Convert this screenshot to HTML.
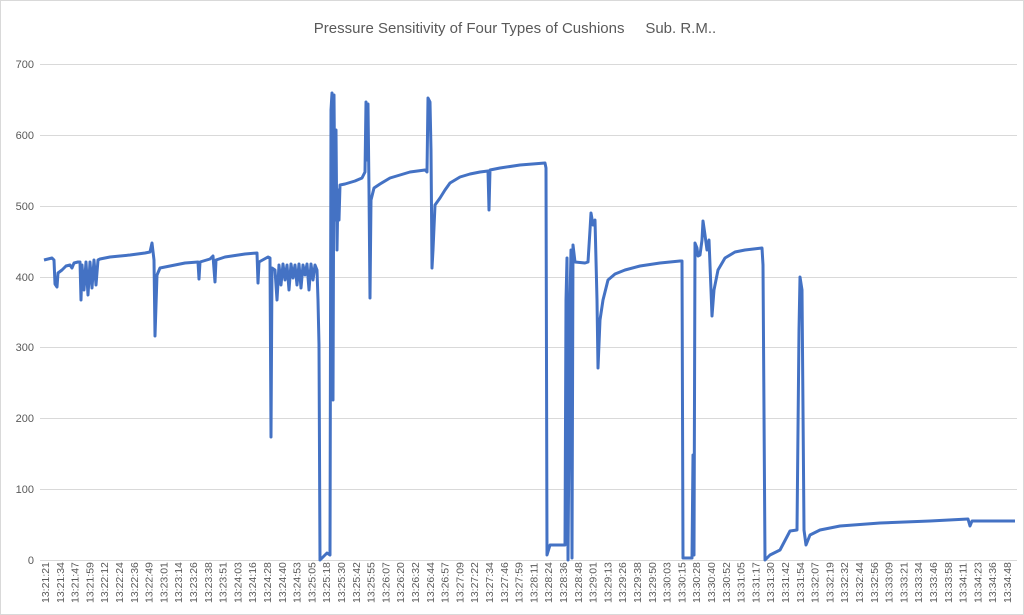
<!DOCTYPE html>
<html><head><meta charset="utf-8"><style>
body{margin:0;background:#fff}
svg{display:block}
text{font-family:"Liberation Sans",sans-serif;fill:#595959}
</style></head><body>
<svg width="1024" height="615" viewBox="0 0 1024 615">
<rect x="0.5" y="0.5" width="1023" height="614" fill="#fff" stroke="#d9d9d9"/>
<text x="515" y="33" font-size="15" text-anchor="middle" xml:space="preserve">Pressure Sensitivity of Four Types of Cushions     Sub. R.M..</text>
<g stroke="#d9d9d9" stroke-width="1">
<line x1="40" x2="1017" y1="64.5" y2="64.5"/><line x1="40" x2="1017" y1="135.5" y2="135.5"/>
<line x1="40" x2="1017" y1="206.5" y2="206.5"/><line x1="40" x2="1017" y1="277.5" y2="277.5"/>
<line x1="40" x2="1017" y1="347.5" y2="347.5"/><line x1="40" x2="1017" y1="418.5" y2="418.5"/>
<line x1="40" x2="1017" y1="489.5" y2="489.5"/><line x1="40" x2="1017" y1="560.5" y2="560.5"/>
</g>
<g font-size="11" text-anchor="end">
<text x="34" y="68">700</text><text x="34" y="139">600</text><text x="34" y="210">500</text>
<text x="34" y="281">400</text><text x="34" y="351">300</text><text x="34" y="422">200</text>
<text x="34" y="493">100</text><text x="34" y="564">0</text>
</g>
<polyline fill="none" stroke="#4472c4" stroke-width="3" stroke-linejoin="round" points="
44,260 52,258 54,260 55,284 57,287 58,273 62,270 66,266 70,265 72,268 74,263 78,262 80,262 81,300 82,265 84,290 86,262 88,295 90,262 92,288 94,260 96,285 98,260 100,259 110,257 130,255 145,253 150,252 152,243 154,260 155,336 157,275 160,268 170,266 185,263 198,262 199,279 200,262 210,259 213,256 215,282 216,260 225,257 245,254 257,253 258,283 259,262 268,257 270,258 271,437 272,268 275,270 277,300 279,265 281,285 283,264 285,280 287,265 289,290 291,264 293,278 295,265 297,285 299,264 301,288 303,265 305,275 307,264 309,290 311,264 313,280 315,265 317,270 318,300 319,345 320,560 327,553 330,555 331,110 332,93 333,400 334,95 335,220 336,130 337,250 338,190 339,220 340,185 345,184 355,181 362,178 365,172 366,102 367,160 368,104 369,190 370,298 371,200 374,188 380,184 390,178 400,175 410,172 425,170 427,172 428,98 430,102 431,150 432,268 433,250 435,205 440,198 445,190 450,183 460,177 470,174 480,172 488,171 489,210 490,170 500,168 520,165 545,163 546,168 547,555 550,545 565,545 566,300 567,258 568,560 570,300 571,250 572,558 573,245 575,262 585,263 588,262 590,230 591,213 593,225 595,220 597,300 598,368 600,320 603,300 608,280 615,274 625,270 640,266 660,263 680,261 682,261 683,558 692,558 693,455 694,555 695,243 697,248 698,256 700,255 702,240 703,221 705,235 707,250 709,240 711,290 712,316 714,290 718,270 725,258 735,252 745,250 762,248 763,265 765,560 770,555 780,550 790,531 797,530 799,330 800,277 802,290 804,530 806,545 810,535 820,530 840,526 880,523 930,521 968,519 970,526 972,521 1015,521"/>
<g font-size="10.5">
<text transform="translate(49,603) rotate(-90)">13:21:21</text>
<text transform="translate(63.8,603) rotate(-90)">13:21:34</text>
<text transform="translate(78.6,603) rotate(-90)">13:21:47</text>
<text transform="translate(93.4,603) rotate(-90)">13:21:59</text>
<text transform="translate(108.2,603) rotate(-90)">13:22:12</text>
<text transform="translate(123,603) rotate(-90)">13:22:24</text>
<text transform="translate(137.8,603) rotate(-90)">13:22:36</text>
<text transform="translate(152.6,603) rotate(-90)">13:22:49</text>
<text transform="translate(167.4,603) rotate(-90)">13:23:01</text>
<text transform="translate(182.2,603) rotate(-90)">13:23:14</text>
<text transform="translate(197,603) rotate(-90)">13:23:26</text>
<text transform="translate(211.8,603) rotate(-90)">13:23:38</text>
<text transform="translate(226.6,603) rotate(-90)">13:23:51</text>
<text transform="translate(241.4,603) rotate(-90)">13:24:03</text>
<text transform="translate(256.2,603) rotate(-90)">13:24:16</text>
<text transform="translate(271,603) rotate(-90)">13:24:28</text>
<text transform="translate(285.8,603) rotate(-90)">13:24:40</text>
<text transform="translate(300.6,603) rotate(-90)">13:24:53</text>
<text transform="translate(315.4,603) rotate(-90)">13:25:05</text>
<text transform="translate(330.2,603) rotate(-90)">13:25:18</text>
<text transform="translate(345,603) rotate(-90)">13:25:30</text>
<text transform="translate(359.8,603) rotate(-90)">13:25:42</text>
<text transform="translate(374.6,603) rotate(-90)">13:25:55</text>
<text transform="translate(389.4,603) rotate(-90)">13:26:07</text>
<text transform="translate(404.2,603) rotate(-90)">13:26:20</text>
<text transform="translate(419,603) rotate(-90)">13:26:32</text>
<text transform="translate(433.8,603) rotate(-90)">13:26:44</text>
<text transform="translate(448.6,603) rotate(-90)">13:26:57</text>
<text transform="translate(463.4,603) rotate(-90)">13:27:09</text>
<text transform="translate(478.2,603) rotate(-90)">13:27:22</text>
<text transform="translate(493,603) rotate(-90)">13:27:34</text>
<text transform="translate(507.8,603) rotate(-90)">13:27:46</text>
<text transform="translate(522.6,603) rotate(-90)">13:27:59</text>
<text transform="translate(537.4,603) rotate(-90)">13:28:11</text>
<text transform="translate(552.2,603) rotate(-90)">13:28:24</text>
<text transform="translate(567,603) rotate(-90)">13:28:36</text>
<text transform="translate(581.8,603) rotate(-90)">13:28:48</text>
<text transform="translate(596.6,603) rotate(-90)">13:29:01</text>
<text transform="translate(611.4,603) rotate(-90)">13:29:13</text>
<text transform="translate(626.2,603) rotate(-90)">13:29:26</text>
<text transform="translate(641,603) rotate(-90)">13:29:38</text>
<text transform="translate(655.8,603) rotate(-90)">13:29:50</text>
<text transform="translate(670.6,603) rotate(-90)">13:30:03</text>
<text transform="translate(685.4,603) rotate(-90)">13:30:15</text>
<text transform="translate(700.2,603) rotate(-90)">13:30:28</text>
<text transform="translate(715,603) rotate(-90)">13:30:40</text>
<text transform="translate(729.8,603) rotate(-90)">13:30:52</text>
<text transform="translate(744.6,603) rotate(-90)">13:31:05</text>
<text transform="translate(759.4,603) rotate(-90)">13:31:17</text>
<text transform="translate(774.2,603) rotate(-90)">13:31:30</text>
<text transform="translate(789,603) rotate(-90)">13:31:42</text>
<text transform="translate(803.8,603) rotate(-90)">13:31:54</text>
<text transform="translate(818.6,603) rotate(-90)">13:32:07</text>
<text transform="translate(833.4,603) rotate(-90)">13:32:19</text>
<text transform="translate(848.2,603) rotate(-90)">13:32:32</text>
<text transform="translate(863,603) rotate(-90)">13:32:44</text>
<text transform="translate(877.8,603) rotate(-90)">13:32:56</text>
<text transform="translate(892.6,603) rotate(-90)">13:33:09</text>
<text transform="translate(907.4,603) rotate(-90)">13:33:21</text>
<text transform="translate(922.2,603) rotate(-90)">13:33:34</text>
<text transform="translate(937,603) rotate(-90)">13:33:46</text>
<text transform="translate(951.8,603) rotate(-90)">13:33:58</text>
<text transform="translate(966.6,603) rotate(-90)">13:34:11</text>
<text transform="translate(981.4,603) rotate(-90)">13:34:23</text>
<text transform="translate(996.2,603) rotate(-90)">13:34:36</text>
<text transform="translate(1011,603) rotate(-90)">13:34:48</text>
</g>
</svg>
</body></html>
